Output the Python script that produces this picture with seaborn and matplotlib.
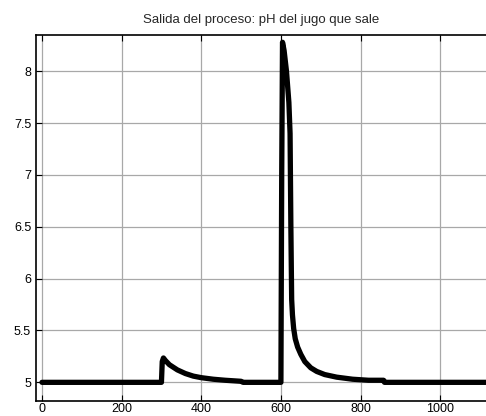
import numpy as np
import pandas as pd
import matplotlib.pyplot as plt
import seaborn as sns

# time (s) and pH of the outgoing juice
tiempo = [0, 300, 302, 305, 310, 320, 340, 360, 380, 400, 430, 460, 500, 505,
          600, 602, 604, 608, 614, 620, 623, 625, 627, 629, 632, 636, 642, 650,
          660, 675, 690, 710, 740, 780, 820, 858, 860, 1120]
ph = [5.0, 5.0, 5.2, 5.235, 5.21, 5.17, 5.12, 5.085, 5.06, 5.045, 5.03, 5.02, 5.01, 5.0,
      5.0, 7.0, 8.28, 8.2, 8.0, 7.7, 7.4, 6.5, 5.8, 5.65, 5.52, 5.42, 5.34, 5.27,
      5.2, 5.14, 5.105, 5.075, 5.05, 5.03, 5.02, 5.02, 5.0, 5.0]

xticks = [0, 200, 400, 600, 800, 1000]
yticks = [5, 5.5, 6, 6.5, 7, 7.5, 8]
titulo = 'Salida del proceso: pH del jugo que sale'

df = pd.DataFrame({'t': tiempo, 'pH': ph})

sns.set_style("white")
plt.rcParams['font.family'] = ['Liberation Sans', 'DejaVu Sans']

fig = plt.figure(figsize=(4.86, 4.16), dpi=100)
ax = fig.add_axes([36 / 486, 1 - 401 / 416, 1 - 36 / 486, (401 - 35) / 416])

sns.lineplot(data=df, x='t', y='pH', ax=ax, color='black', linewidth=3.8,
             estimator=None, sort=False)

ax.set_xlim(-15, 1115)
ax.set_ylim(4.82, 8.35)
ax.set_xticks(xticks)
ax.set_yticks(yticks)
ax.set_yticklabels([f'{v:g}' for v in yticks])
ax.set_xlabel('')
ax.set_ylabel('')
ax.grid(True, color='#a8a8a8', linewidth=0.9)
ax.set_axisbelow(True)

for side in ['left', 'bottom', 'top']:
    ax.spines[side].set_color('black')
    ax.spines[side].set_linewidth(1.2)
ax.spines['right'].set_visible(False)

ax.tick_params(direction='in', length=4, width=0.8, colors='black', labelsize=9,
               top=True, bottom=True, left=True, right=False)
ax.tick_params(axis='x', pad=1.5)
ax.set_title(titulo, fontsize=9.5, pad=9)

fig.savefig('out.png', dpi=100)
plt.close(fig)
